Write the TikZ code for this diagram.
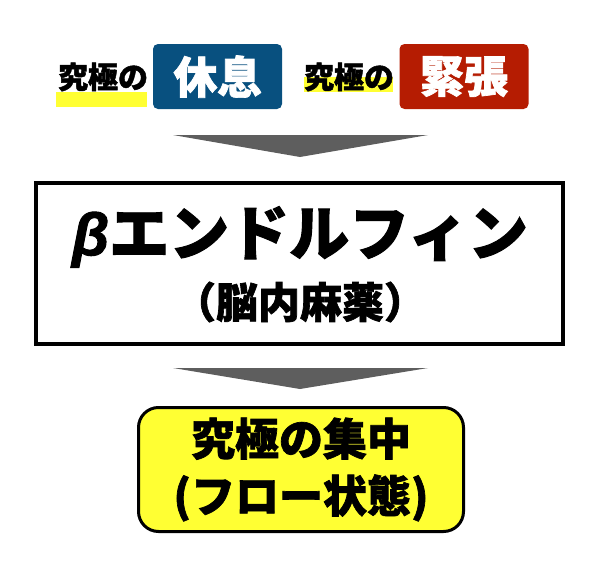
\documentclass[tikz,border=0pt]{standalone}
\usepackage{fontspec}
\newfontfamily\jp{Noto Sans CJK JP}[BoldFeatures={FakeBold=1.6}]
\newfontfamily\grk{Liberation Sans}[BoldItalicFeatures={FakeBold=1.6}]
\usetikzlibrary{positioning}
\definecolor{restblue}{HTML}{08507F}
\definecolor{tensered}{HTML}{B51C02}
\definecolor{markyellow}{HTML}{FFFF33}
\definecolor{arrowgray}{HTML}{5E5E5E}
\tikzset{
  headtxt/.style={font=\jp\bfseries\fontsize{30}{30}\selectfont, inner sep=0pt},
  tagbox/.style={rounded corners=5pt, text=white, minimum width=129pt, minimum height=65pt,
    inner sep=0pt, font=\jp\bfseries\fontsize{44}{44}\selectfont},
  mainbox/.style={draw=black, line width=4pt, minimum width=527pt, minimum height=161pt, inner sep=0pt},
  bigtxt/.style={inner sep=0pt, font=\jp\bfseries\fontsize{60}{60}\selectfont},
  subtxt/.style={inner sep=0pt, font=\jp\bfseries\fontsize{42}{42}\selectfont},
  flowbox/.style={draw=black, fill=markyellow, line width=3pt, rounded corners=20pt,
    minimum width=325pt, minimum height=124pt, align=center, inner sep=0pt,
    font=\jp\bfseries\fontsize{44}{57}\selectfont},
  bigarrow/.style={fill=arrowgray}
}
\begin{document}
\begin{tikzpicture}[x=1pt,y=-1pt]
  \useasboundingbox (0,0) rectangle (600,562);

  % top row
  \fill[markyellow] (56,92) rectangle (147,107);
  \node[headtxt] (rest0) at (103,77) {究極の};
  \node[tagbox, fill=restblue] (rest) at (217.5,76.5) {休息};
  \fill[markyellow] (304,77) rectangle (393,92);
  \node[headtxt] (tense0) at (349,77) {究極の};
  \node[tagbox, fill=tensered] (tense) at (464,76.5) {緊張};

  % beta endorphin
  \node[mainbox] (endo) at (299.5,263.5) {};
  \node[bigtxt] (endoname) at (300,237) {{\grk\bfseries\itshape β}エンドルフィン};
  \node[subtxt] (endonote) at (300,302) {（脳内麻薬）};

  % flow
  \node[flowbox] (flow) at (301,469.5) {究極の集中\\(フロー状態)};

  % arrows
  \coordinate (a1l) at (173,135); \coordinate (a1r) at (428,135); \coordinate (a1t) at (300,157);
  \fill[bigarrow] (a1l) -- (a1r) -- (a1t) -- cycle;
  \coordinate (a2l) at (173,368); \coordinate (a2r) at (428,368); \coordinate (a2t) at (300,389);
  \fill[bigarrow] (a2l) -- (a2r) -- (a2t) -- cycle;
\end{tikzpicture}
\end{document}
